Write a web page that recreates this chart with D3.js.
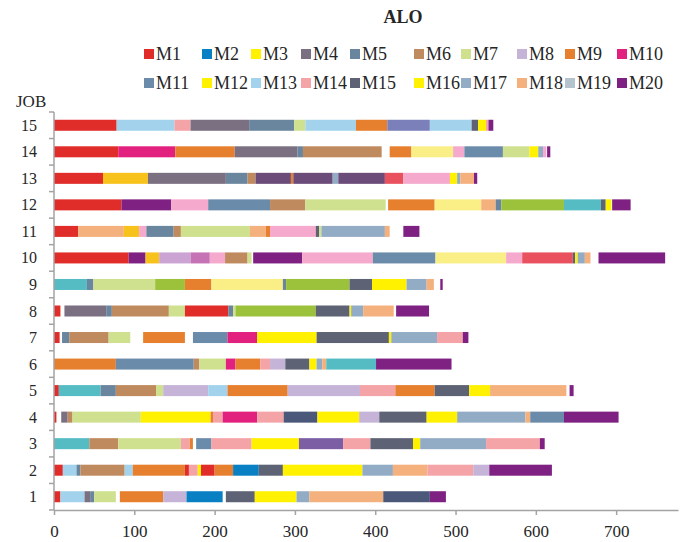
<!DOCTYPE html>
<html><head><meta charset="utf-8">
<script src="https://cdn.jsdelivr.net/npm/d3@7"></script>
<style>
body{margin:0;background:#fff}
svg{display:block}
text{font-family:"Liberation Serif","Times New Roman",serif;fill:#262626}
</style>
</head><body>
<svg id="c" width="686" height="542"></svg>
<script>
// ---------- data ----------
const title = "ALO";
const jobs = ["1","2","3","4","5","6","7","8","9","10","11","12","13","14","15"];
const machines = ["M1","M2","M3","M4","M5","M6","M7","M8","M9","M10",
                  "M11","M12","M13","M14","M15","M16","M17","M18","M19","M20"];
const xTicks = [0,100,200,300,400,500,600,700];

// segments per job: [start, end, colour key]  (keys 1-20 = M1-M20, 21+ = unlabelled shades)
const job1  = [[0,8,1],[8,38,13],[38,45,4],[45,50,5],[50,77,7],[82,136,9],[136,165,8],[165,210,2],[214,250,15],[250,302,3],[302,318,17],[318,410,18],[410,468,29],[468,488,20]];
const job2  = [[0,11,1],[11,28,13],[28,33,5],[33,88,6],[88,98,13],[98,163,9],[163,168,1],[168,179,14],[179,183,3],[183,200,1],[200,223,9],[223,255,2],[255,285,15],[285,384,3],[384,422,17],[422,465,18],[465,522,14],[522,542,8],[542,620,20]];
const job3  = [[0,44,21],[44,80,6],[80,158,7],[158,169,14],[169,173,9],[177,196,11],[196,246,14],[246,305,3],[305,360,31],[360,394,14],[394,447,15],[447,456,3],[456,538,17],[538,605,14],[605,611,20]];
const job4  = [[0,3,1],[9,17,4],[17,23,6],[23,108,7],[108,195,3],[195,198,9],[198,210,14],[210,253,10],[253,286,14],[286,328,29],[328,380,3],[380,405,8],[405,464,15],[464,502,3],[502,587,17],[587,593,18],[593,635,11],[635,703,20]];
const job5  = [[0,6,1],[6,58,21],[58,77,5],[77,127,6],[127,136,7],[136,192,8],[192,216,13],[216,291,9],[291,381,8],[381,425,14],[425,474,9],[474,517,15],[517,543,3],[543,638,18],[642,647,20]];
const job6  = [[0,77,9],[77,174,11],[174,181,6],[181,214,7],[214,226,10],[226,257,9],[257,269,14],[269,288,8],[288,318,15],[318,327,3],[327,334,17],[334,339,18],[339,401,21],[401,495,20]];
const job7  = [[0,7,1],[10,19,5],[19,68,6],[68,95,7],[111,163,9],[173,216,11],[216,253,10],[253,327,3],[327,417,15],[417,420,3],[420,477,17],[477,509,14],[509,516,20]];
const job8  = [[0,8,1],[13,65,4],[65,72,5],[72,143,6],[143,163,7],[163,217,1],[217,223,5],[223,226,7],[226,326,22],[326,368,15],[368,370,3],[370,385,17],[385,423,18],[426,467,20]];
const job9  = [[0,41,21],[41,49,5],[49,126,7],[126,163,22],[163,196,9],[196,285,27],[285,289,5],[289,368,22],[368,396,15],[396,439,3],[439,464,17],[464,473,18],[481,484,20]];
const job10 = [[0,93,1],[93,114,20],[114,131,24],[131,170,30],[170,194,25],[194,213,32],[213,241,6],[241,246,7],[248,309,20],[309,397,32],[397,475,11],[475,563,27],[563,583,32],[583,646,26],[646,649,15],[649,652,3],[652,661,17],[661,668,18],[678,761,20]];
const job11 = [[0,30,1],[30,87,18],[87,106,24],[106,115,32],[115,149,5],[149,158,6],[158,244,7],[244,264,18],[264,269,9],[269,326,32],[326,330,15],[330,333,7],[333,412,17],[412,418,18],[435,455,20]];
const job12 = [[0,84,1],[84,146,20],[146,192,32],[192,269,11],[269,313,6],[313,413,7],[416,474,9],[474,532,27],[532,550,18],[550,557,5],[557,635,22],[635,681,21],[681,687,15],[687,694,3],[695,718,20]];
const job13 = [[0,61,1],[61,117,24],[117,214,4],[214,241,5],[241,251,6],[251,295,23],[295,298,9],[298,347,23],[347,354,17],[354,412,23],[412,435,26],[435,493,32],[493,502,3],[502,506,17],[506,523,18],[523,527,20]];
const job14 = [[0,80,1],[80,151,10],[151,225,9],[225,303,4],[303,310,5],[310,408,6],[418,445,9],[445,497,27],[497,511,32],[511,559,11],[559,592,7],[592,603,3],[603,609,17],[609,613,32],[614,618,20]];
const job15 = [[0,78,1],[78,150,13],[150,170,14],[170,243,4],[243,299,5],[299,313,7],[313,376,13],[376,415,9],[415,468,28],[468,520,13],[520,528,15],[528,538,3],[538,541,14],[541,547,20]];
const schedule = [job1,job2,job3,job4,job5,job6,job7,job8,job9,job10,job11,job12,job13,job14,job15];

// ---------- styles ----------
const colors = {
  1:"#e12d2a",2:"#0a80c4",3:"#fff100",4:"#7b6f82",5:"#6a869f",6:"#c08a5f",7:"#cfe08f",8:"#c5b4d8",
  9:"#e6802f",10:"#e2207e",11:"#6b8bab",12:"#fff100",13:"#a3d3ec",14:"#f4a3a6",15:"#5d6274",16:"#fff100",
  17:"#93acc6",18:"#f5b17d",19:"#b4c3cd",20:"#7e2182",
  21:"#55bcc4",22:"#9bc23a",23:"#6b4b79",24:"#f8c21c",25:"#c673b6",26:"#e9515e",27:"#faee86",
  28:"#7b80bb",29:"#4b5879",30:"#cba4d4",31:"#7b5ea3",32:"#f4a9cd"
};
const legendColX = [144,202,251,301,350,414,461,517,565,617];
const legendRowY = [54,83];

// ---------- drawing ----------
const svg = d3.select("#c");
svg.append("rect").attr("width",686).attr("height",542).attr("fill","#fff");

const x = d3.scaleLinear().domain([0,777]).range([54,678]);
const y = d3.scaleBand().domain(jobs.slice().reverse()).range([112,510])
  .paddingInner(0.585).paddingOuter(0.2925);

// bars
const rows = svg.append("g");
schedule.forEach((segs,i)=>{
  rows.selectAll(null).data(segs).join("rect")
    .attr("x",d=>x(d[0]))
    .attr("width",d=>Math.max(0,x(d[1])-x(d[0])))
    .attr("y",y(jobs[i]))
    .attr("height",y.bandwidth())
    .attr("fill",d=>colors[d[2]]);
});

// y axis
const axisColor = "#a3a3a3";
const yg = svg.append("g");
yg.append("line").attr("x1",54).attr("x2",54).attr("y1",112).attr("y2",510)
  .attr("stroke",axisColor).attr("stroke-width",1.5);
const step = y.step();
yg.selectAll("line.t").data(d3.range(jobs.length+1)).join("line").attr("class","t")
  .attr("x1",49).attr("x2",54)
  .attr("y1",i=>112+i*step).attr("y2",i=>112+i*step)
  .attr("stroke",axisColor).attr("stroke-width",1.5);
yg.selectAll("text").data(jobs).join("text")
  .attr("x",37).attr("y",d=>y(d)+y.bandwidth()/2+5.5)
  .attr("text-anchor","end").attr("font-size",16).text(d=>d);

// x axis
const xg = svg.append("g").attr("transform","translate(0,510)")
  .call(d3.axisBottom(x).tickValues(xTicks).tickSize(5).tickSizeOuter(0).tickPadding(10));
xg.select(".domain").attr("stroke",axisColor).attr("stroke-width",1.5);
xg.selectAll(".tick line").attr("stroke",axisColor).attr("stroke-width",1.5);
xg.selectAll(".tick text").attr("font-size",17)
  .attr("font-family",'"Liberation Serif","Times New Roman",serif').attr("fill","#262626");

// labels
svg.append("text").attr("x",403).attr("y",23).attr("text-anchor","middle")
  .attr("font-size",18).attr("font-weight","bold").text(title);
svg.append("text").attr("x",16).attr("y",107).attr("font-size",17).text("JOB");

// legend
const lg = svg.append("g");
machines.forEach((m,i)=>{
  const cx = legendColX[i%10], cy = legendRowY[Math.floor(i/10)];
  lg.append("rect").attr("x",cx).attr("y",cy-5).attr("width",10).attr("height",10)
    .attr("fill",colors[i+1]);
  lg.append("text").attr("x",cx+12).attr("y",cy+6).attr("font-size",18).text(m);
});
</script>
</body></html>
